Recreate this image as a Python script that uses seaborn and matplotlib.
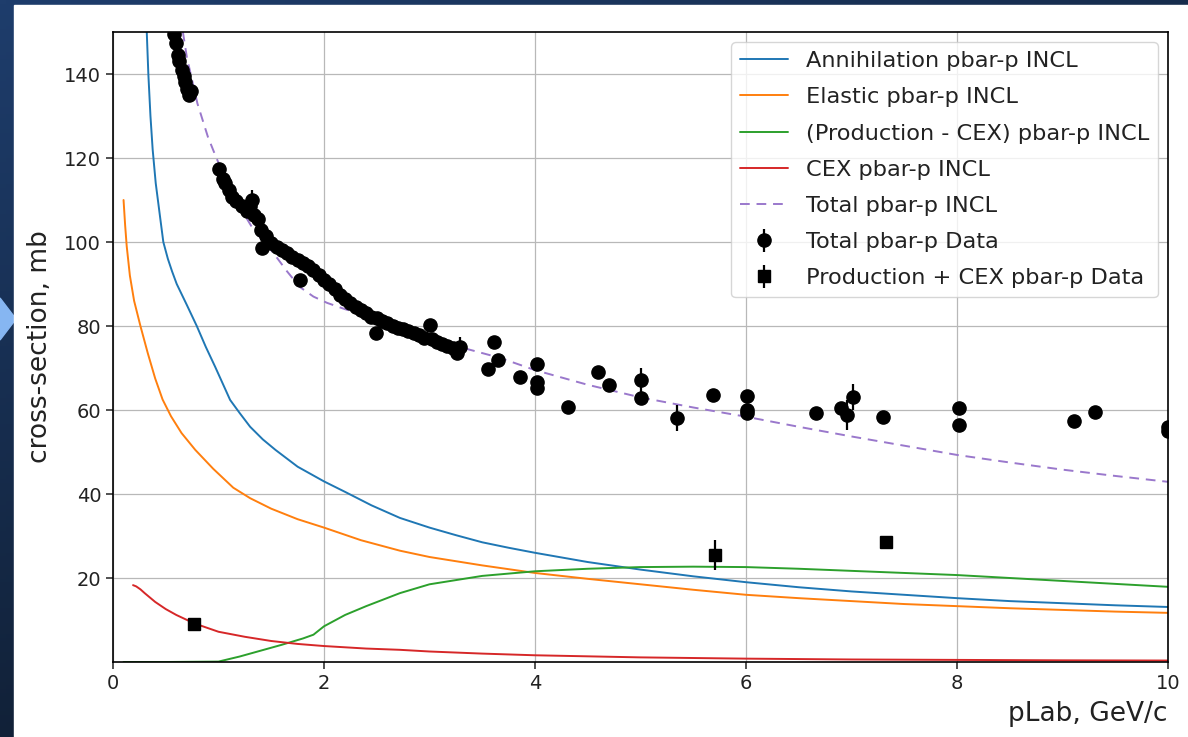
import numpy as np
import pandas as pd
import matplotlib
matplotlib.use("Agg")
import matplotlib.pyplot as plt
from matplotlib.patches import Rectangle, Polygon
import seaborn as sns

# ---------------- data ----------------
ann_x = [0.30, 0.32, 0.335, 0.355, 0.376, 0.405, 0.446, 0.477, 0.52, 0.56, 0.604, 0.70, 0.794,
         0.88, 0.968, 1.04, 1.11, 1.20, 1.30, 1.42, 1.54, 1.75, 2.0, 2.2, 2.45, 2.72, 3.0, 3.25,
         3.5, 3.75, 4.0, 4.5, 5.0, 5.5, 6.0, 6.5, 7.0, 7.5, 8.0, 8.5, 9.0, 9.5, 10.0]
ann_y = [172, 150, 140, 130, 122, 114, 106, 100, 96, 93, 90, 85, 80,
         75, 70.3, 66.3, 62.4, 59.3, 56, 53, 50.5, 46.5, 43, 40.5, 37.3, 34.3, 32, 30.2,
         28.5, 27.2, 26, 23.8, 22, 20.4, 19, 17.8, 16.8, 16, 15.2, 14.5, 14, 13.5, 13.1]

ela_x = [0.10, 0.115, 0.13, 0.16, 0.20, 0.26, 0.33, 0.40, 0.47, 0.55, 0.65, 0.78, 0.95, 1.14,
         1.3, 1.5, 1.75, 2.0, 2.35, 2.72, 3.0, 3.5, 4.0, 4.5, 5.0, 5.5, 6.0, 6.5, 7.0, 7.5, 8.0,
         8.5, 9.0, 9.5, 10.0]
ela_y = [110, 104, 99, 92, 86, 80, 73.5, 67.5, 62.5, 58.5, 54.5, 50.5, 46, 41.5,
         39, 36.5, 34, 32, 29, 26.5, 25, 23, 21.2, 19.8, 18.5, 17.2, 16, 15.2, 14.5, 13.8, 13.3,
         12.8, 12.4, 12.0, 11.7]

prod_x = [0.10, 0.5, 1.0, 1.2, 1.4, 1.6, 1.8, 1.9, 2.0, 2.2, 2.4, 2.72, 3.0, 3.5, 4.0, 4.5, 5.0,
          5.5, 6.0, 6.5, 7.0, 7.5, 8.0, 8.5, 9.0, 9.5, 10.0]
prod_y = [0.0, 0.0, 0.1, 1.3, 2.7, 4.1, 5.6, 6.5, 8.5, 11.2, 13.3, 16.4, 18.5, 20.5, 21.6, 22.2, 22.6,
          22.7, 22.6, 22.2, 21.7, 21.2, 20.7, 20.0, 19.3, 18.6, 17.9]

cex_x = [0.19, 0.22, 0.26, 0.30, 0.40, 0.50, 0.60, 0.77, 1.0, 1.25, 1.5, 1.75, 2.0, 2.4, 2.72,
         3.0, 3.5, 4.0, 5.0, 6.0, 7.0, 8.0, 9.0, 10.0]
cex_y = [18.3, 18.0, 17.3, 16.4, 14.3, 12.6, 11.2, 9.2, 7.2, 6.0, 5.0, 4.3, 3.8, 3.2, 2.9,
         2.5, 2.0, 1.6, 1.1, 0.8, 0.6, 0.5, 0.4, 0.35]

tot_x = [0.55, 0.60, 0.65, 0.70, 0.80, 0.90, 0.98, 1.15, 1.33, 1.52, 1.65, 1.77, 1.9, 2.03, 2.2,
         2.34, 2.5, 2.7, 3.0, 3.36, 3.67, 4.0, 4.5, 5.0, 5.5, 6.0, 6.5, 7.0, 7.5, 8.0, 8.5, 9.0,
         9.5, 10.0]
tot_y = [172, 162, 152, 144, 133, 125, 120, 110.5, 103, 97.4, 93, 89.3, 87, 85.5, 84,
         83, 81.8, 80.2, 77.5, 74.5, 72.4, 69.5, 66, 63, 60.6, 58.4, 56, 53.7, 51.5, 49.3, 47.5, 45.8,
         44.3, 42.9]

data_x = [0.58, 0.60, 0.62, 0.63, 0.65, 0.67, 0.68, 0.70, 0.72, 0.74,
          1.00, 1.04, 1.06, 1.10, 1.13, 1.17, 1.22, 1.27, 1.30, 1.32, 1.34, 1.37, 1.40, 1.41,
          1.45, 1.50, 1.55, 1.60, 1.65, 1.70, 1.75, 1.77, 1.80, 1.85, 1.90, 1.95, 2.00, 2.05,
          2.10, 2.15, 2.20, 2.25, 2.30, 2.35, 2.40, 2.45, 2.49, 2.50, 2.55, 2.60, 2.65, 2.70,
          2.75, 2.80, 2.85, 2.90, 2.95, 3.00, 3.02, 3.07, 3.12, 3.17, 3.22, 3.26, 3.29,
          3.55, 3.61, 3.65, 3.86, 4.02, 4.02, 4.02, 4.31, 4.60, 4.70, 5.00, 5.00, 5.35, 5.69,
          6.01, 6.01, 6.01, 6.66, 6.90, 6.96, 7.01, 7.30, 8.02, 8.02, 9.11, 9.31, 10.0, 10.0]
data_y = [149.5, 147.5, 144.5, 143, 141, 139.5, 138, 136.5, 135, 136,
          117.5, 115, 114, 112.5, 110.8, 109.8, 108.6, 107.5, 108.5, 110, 106.5, 105.5, 102.8, 98.6,
          101.5, 99.8, 98.8, 98, 97.3, 96.5, 95.8, 91, 95, 94.2, 93.3, 92.2, 91, 90,
          88.8, 87.5, 86.5, 85.5, 84.5, 83.8, 83, 82.2, 78.3, 81.8, 81.2, 80.6, 80.1, 79.6,
          79.2, 78.8, 78.3, 77.8, 77.2, 80.2, 76.8, 76.3, 75.8, 75.3, 74.7, 73.5, 75,
          69.8, 76.3, 71.8, 67.8, 71.0, 66.7, 65.3, 60.7, 69.0, 66.0, 67.1, 62.9, 58.1, 63.6,
          63.3, 60.0, 59.3, 59.3, 60.5, 58.8, 63.1, 58.4, 60.5, 56.4, 57.4, 59.5, 56.0, 55.0]
data_err = [1.0] * len(data_x)
for i, (xx, yy) in enumerate(zip(data_x, data_y)):
    if (xx, yy) in [(1.32, 110), (3.29, 75)]:
        data_err[i] = 2.5
    if (xx, yy) in [(5.00, 67.1), (5.35, 58.1), (7.01, 63.1)]:
        data_err[i] = 3.0
    if (xx, yy) == (6.96, 58.8):
        data_err[i] = 3.5

pc_x = [0.77, 5.71, 7.33]
pc_y = [9.0, 25.5, 28.6]
pc_err = [0.5, 3.5, 0.5]

curve_labels = ["Annihilation pbar-p INCL", "Elastic pbar-p INCL",
                "(Production - CEX) pbar-p INCL", "CEX pbar-p INCL", "Total pbar-p INCL"]
curve_colors = ["#1f77b4", "#ff7f0e", "#2ca02c", "#d62728", "#9a78cc"]

# ---------------- figure ----------------
sns.set_style("ticks")
plt.rcParams["font.family"] = ["DejaVu Sans"]

W, H = 1188, 737
fig = plt.figure(figsize=(W / 100, H / 100), dpi=100)

# slide background
bg = fig.add_axes([0, 0, 1, 1], zorder=-10)
bg.set_xlim(0, 1)
bg.set_ylim(0, 1)
bg.axis("off")
gx, gy = np.meshgrid(np.linspace(0, 1, 200), np.linspace(0, 1, 200))
t = np.clip(0.75 * (1 - gy) + 0.45 * gx, 0, 1)
c0 = np.array([0x1e, 0x3d, 0x6c]) / 255
c1 = np.array([0x0d, 0x18, 0x27]) / 255
img = c0[None, None, :] * (1 - t[..., None]) + c1[None, None, :] * t[..., None]
bg.imshow(img, extent=[0, 1, 0, 1], origin="lower", aspect="auto")
bg.add_patch(Polygon([[0, 1 - 298 / H], [16 / W, 1 - 319 / H], [0, 1 - 340 / H]],
                     closed=True, color="#86b6f2"))
bg.add_patch(Rectangle((14 / W, 0), 1 - 14 / W, 1 - 5 / H, color="white"))

ax = fig.add_axes([113 / W, 75 / H, 1055 / W, 630 / H])

curves = [(ann_x, ann_y), (ela_x, ela_y), (prod_x, prod_y), (cex_x, cex_y), (tot_x, tot_y)]
for i, ((cx, cy), lab, col) in enumerate(zip(curves, curve_labels, curve_colors)):
    df = pd.DataFrame({"p": cx, "sigma": cy})
    sns.lineplot(data=df, x="p", y="sigma", ax=ax, color=col, lw=1.4, label=lab,
                 sort=False, estimator=None)
    if i == 4:
        ax.lines[-1].set_linestyle((0, (5, 3.5)))

ax.errorbar(data_x, data_y, yerr=data_err, fmt="o", color="black", ms=9.5,
            elinewidth=1.6, capsize=0, label="Total pbar-p Data", zorder=3)
ax.errorbar(pc_x, pc_y, yerr=pc_err, fmt="s", color="black", ms=8.5,
            elinewidth=1.6, capsize=0, label="Production + CEX pbar-p Data", zorder=3)

ax.set_xlim(0, 10)
ax.set_ylim(0, 150)
ax.set_xticks([0, 2, 4, 6, 8, 10])
ax.set_yticks([20, 40, 60, 80, 100, 120, 140])
ax.grid(True, color="#b8b8b8", lw=0.9)
ax.set_axisbelow(True)
for s in ax.spines.values():
    s.set_visible(True)
    s.set_color("black")
    s.set_linewidth(1.2)
ax.tick_params(labelsize=14, colors="#222222", length=5, width=1.1)
ax.set_xlabel("pLab, GeV/c", fontsize=19, color="#222222", loc="right", labelpad=6)
ax.set_ylabel("cross-section, mb", fontsize=19, color="#222222", labelpad=8)

leg = ax.legend(loc="upper right", fontsize=16.2, frameon=True, framealpha=0.8,
                edgecolor="#cccccc", fancybox=True, labelspacing=0.72, handlelength=2.1,
                borderaxespad=0.45)
for txt in leg.get_texts():
    txt.set_color("#222222")

fig.savefig("out.png", dpi=100)
